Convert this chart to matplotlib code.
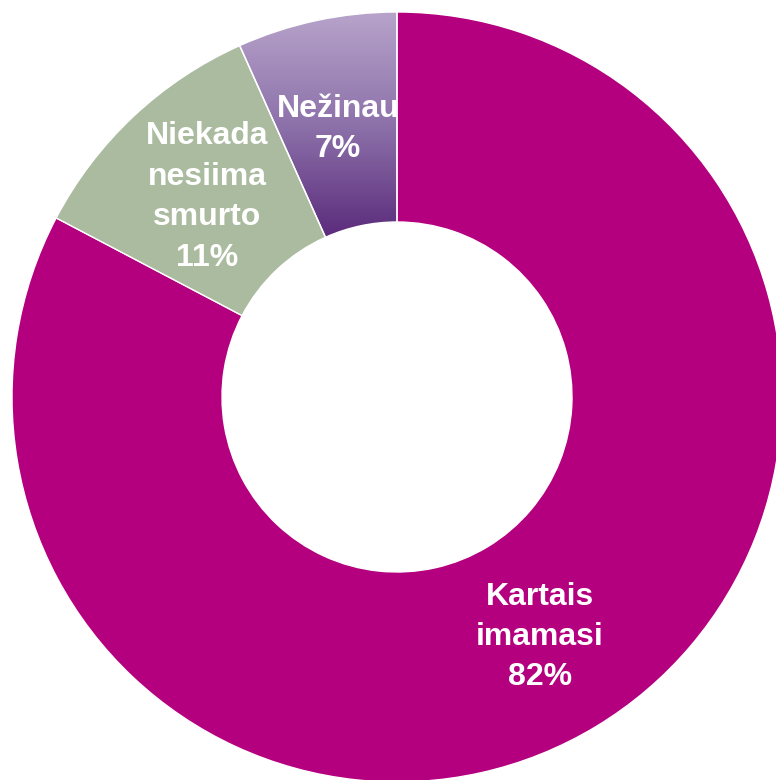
import matplotlib.pyplot as plt
import numpy as np
from matplotlib.colors import LinearSegmentedColormap

# --- Data ---
labels = ["Kartais\nimamasi", "Niekada\nnesiima\nsmurto", "Nežinau"]
pct_labels = ["82%", "11%", "7%"]
shares = [82.7, 10.6, 6.7]          # slice sizes as drawn in the picture
colors = ["#B4007F", "#ABBBA0", "#8B6FA6"]

# --- Layout (pixels, center of the ring) ---
W, H = 776, 780
cx, cy = 397, 397
R_out, R_in = 385, 175

fig = plt.figure(figsize=(W / 100, H / 100), dpi=100)
ax = fig.add_axes([0, 0, 1, 1])

wedges, _ = ax.pie(shares, colors=colors, radius=R_out, startangle=90,
                   counterclock=False,
                   wedgeprops=dict(width=R_out - R_in, edgecolor="white", linewidth=1))

# purple slice gets a vertical gradient, light at top, dark at bottom
purple = wedges[2]
purple.set_facecolor("none")
grad = LinearSegmentedColormap.from_list("pg", ["#5A2A7B", "#8D72AA", "#B8A4CB"])
img = ax.imshow(np.linspace(0, 1, 256).reshape(-1, 1), cmap=grad, origin="lower",
                extent=[-200, 10, 158, R_out + 2], aspect="auto", zorder=0)
img.set_clip_path(purple)

# pie() resets the limits, so set them afterwards
ax.set_xlim(-cx, W - cx)
ax.set_ylim(-(H - cy), cy)
ax.set_aspect("equal")
ax.axis("off")

# --- Labels (placed in pixel coordinates from top-left) ---
label_pos = [(540, 637), (207, 197), (338, 129)]
for lab, pct, (px, py) in zip(labels, pct_labels, label_pos):
    ax.text(px - cx, cy - py, f"{lab}\n{pct}", ha="center", va="center",
            fontsize=23, fontweight="bold", color="white",
            family=["Liberation Sans", "DejaVu Sans"], linespacing=1.45)

fig.savefig("out.png", dpi=100)
